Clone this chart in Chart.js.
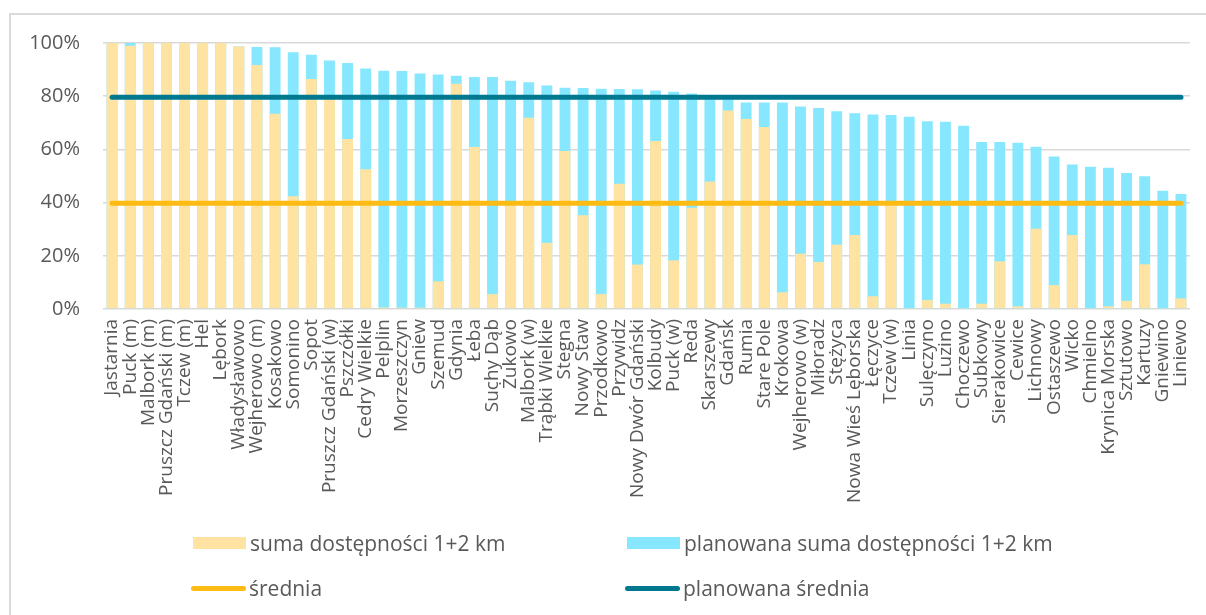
<!DOCTYPE html>
<html lang="pl">
<head>
<meta charset="utf-8">
<title>Dostępność 1+2 km</title>
<script src="https://cdn.jsdelivr.net/npm/chart.js@4/dist/chart.umd.min.js"></script>
<style>
  html, body { margin: 0; padding: 0; background: #fff; overflow: hidden; }
  #wrap { position: relative; width: 1206px; height: 615px; overflow: hidden; }
  #frame {
    position: absolute; left: 9px; top: 13px; right: -20px; bottom: -20px;
    border: 2px solid #d9d9d9; pointer-events: none;
  }
  #chart { position: absolute; left: 0; top: 0; }
  .legend-item {
    position: absolute; display: flex; align-items: center;
    font-family: "Open Sans", sans-serif; font-size: 21px; color: #595959;
    white-space: nowrap; height: 30px;
  }
  .legend-item .box { width: 53px; height: 12px; margin-right: 4px; }
  .legend-item .line { width: 55px; height: 5px; border-radius: 3px; margin-right: 3px; }
</style>
</head>
<body>
<div id="wrap">
  <div id="frame"></div>
  <canvas id="chart" width="1206" height="615"></canvas>
  <div id="legend"></div>
</div>
<script>
'use strict';

const categories = [
  'Jastarnia', 'Puck (m)', 'Malbork (m)', 'Pruszcz Gdański (m)', 'Tczew (m)', 'Hel', 'Lębork',
  'Władysławowo', 'Wejherowo (m)', 'Kosakowo', 'Somonino', 'Sopot', 'Pruszcz Gdański (w)',
  'Pszczółki', 'Cedry Wielkie', 'Pelplin', 'Morzeszczyn', 'Gniew', 'Szemud', 'Gdynia', 'Łeba',
  'Suchy Dąb', 'Żukowo', 'Malbork (w)', 'Trąbki Wielkie', 'Stegna', 'Nowy Staw', 'Przodkowo',
  'Przywidz', 'Nowy Dwór Gdański', 'Kolbudy', 'Puck (w)', 'Reda', 'Skarszewy', 'Gdańsk', 'Rumia',
  'Stare Pole', 'Krokowa', 'Wejherowo (w)', 'Miłoradz', 'Stężyca', 'Nowa Wieś Lęborska',
  'Łęczyce', 'Tczew (w)', 'Linia', 'Sulęczyno', 'Luzino', 'Choczewo', 'Subkowy', 'Sierakowice',
  'Cewice', 'Lichnowy', 'Ostaszewo', 'Wicko', 'Chmielno', 'Krynica Morska', 'Sztutowo',
  'Kartuzy', 'Gniewino', 'Liniewo'
];

// suma dostępności 1+2 km (%)
const currentAccess = [
  100, 99, 100, 100, 100, 100, 100, 98.7, 91.7, 73.4,
  42.4, 86.5, 80, 63.9, 52.5, 0.6, 0.5, 0.5, 10.4, 84.7,
  60.9, 5.6, 40, 71.9, 24.9, 59.4, 35.2, 5.6, 47.1, 16.7,
  63.2, 18.3, 38.1, 47.9, 74.6, 71.4, 68.4, 6.3, 20.8, 17.7,
  24.2, 27.8, 4.8, 40, 0.3, 3.4, 2.0, 0.3, 2.0, 17.9,
  1.0, 30.2, 9.0, 27.8, 0.3, 1.0, 3.1, 16.8, 0.3, 4.0
];

// planowana suma dostępności 1+2 km (%)
const plannedAccess = [
  100, 100, 100, 100, 100, 100, 100, 98.7, 98.5, 98.4,
  96.5, 95.6, 93.4, 92.5, 90.4, 89.6, 89.5, 88.5, 88.2, 87.7,
  87.2, 87.2, 85.8, 85.2, 84.0, 83.2, 83.1, 82.8, 82.7, 82.6,
  82.1, 81.7, 81.0, 80.2, 79.2, 77.6, 77.6, 77.6, 76.1, 75.6,
  74.3, 73.6, 73.1, 72.9, 72.3, 70.6, 70.4, 68.9, 62.8, 62.8,
  62.5, 61.0, 57.3, 54.3, 53.5, 53.1, 51.1, 49.9, 44.5, 43.2
];

const averageCurrent = 39.8;
const averagePlanned = 79.6;

const yTicks = [0, 20, 40, 60, 80, 100];

const seriesNames = [
  'suma dostępności 1+2 km',
  'planowana suma dostępności 1+2 km',
  'średnia',
  'planowana średnia'
];

const COLORS = {
  current: '#fee3a2',
  planned: '#86e7fe',
  avg: '#fdbb14',
  avgPlanned: '#00788f',
  grid: '#d9d9d9',
  text: '#595959'
};

const CHART_LEFT = 103;
const CHART_TOP = 43;
const CHART_BOTTOM = 309;

const ctx = document.getElementById('chart').getContext('2d');

new Chart(ctx, {
  type: 'bar',
  data: {
    labels: categories,
    datasets: [
      {
        type: 'line',
        label: seriesNames[3],
        data: categories.map(() => averagePlanned),
        borderColor: COLORS.avgPlanned,
        borderWidth: 5,
        borderCapStyle: 'round',
        pointRadius: 0,
        order: 0
      },
      {
        type: 'line',
        label: seriesNames[2],
        data: categories.map(() => averageCurrent),
        borderColor: COLORS.avg,
        borderWidth: 5,
        borderCapStyle: 'round',
        pointRadius: 0,
        order: 0
      },
      {
        label: seriesNames[0],
        data: currentAccess,
        backgroundColor: COLORS.current,
        grouped: false,
        categoryPercentage: 1,
        barPercentage: 0.6,
        order: 1
      },
      {
        label: seriesNames[1],
        data: plannedAccess,
        backgroundColor: COLORS.planned,
        grouped: false,
        categoryPercentage: 1,
        barPercentage: 0.6,
        order: 2
      }
    ]
  },
  options: {
    responsive: false,
    animation: false,
    events: [],
    layout: {
      padding: { left: 0, right: 16, top: CHART_TOP, bottom: 0 }
    },
    plugins: {
      legend: { display: false },
      tooltip: { enabled: false }
    },
    scales: {
      x: {
        border: { display: false },
        grid: { display: false, drawTicks: false },
        ticks: {
          autoSkip: false,
          minRotation: 90,
          maxRotation: 90,
          padding: 10,
          color: COLORS.text,
          font: { family: 'Open Sans', size: 19 }
        },
        afterFit: scale => {
          scale.height = 615 - CHART_BOTTOM;
          // rotated labels stay within the category slots, no side padding needed
          scale.paddingLeft = 0;
          scale.paddingRight = 0;
        }
      },
      y: {
        min: 0,
        max: 100,
        border: { display: false },
        grid: { color: COLORS.grid, lineWidth: 1.6, drawTicks: false },
        afterBuildTicks: scale => {
          scale.ticks = yTicks.map(value => ({ value }));
        },
        ticks: {
          padding: 23,
          color: COLORS.text,
          font: { family: 'Open Sans', size: 20 },
          callback: value => `${value}%`
        },
        afterFit: scale => {
          scale.width = CHART_LEFT;
        }
      }
    }
  }
});

// legend laid out in two columns under the plot
const legendItems = [
  { name: seriesNames[0], kind: 'box', color: COLORS.current, left: 193, top: 528 },
  { name: seriesNames[1], kind: 'box', color: COLORS.planned, left: 627, top: 528 },
  { name: seriesNames[2], kind: 'line', color: COLORS.avg, left: 191, top: 573 },
  { name: seriesNames[3], kind: 'line', color: COLORS.avgPlanned, left: 625, top: 573 }
];

const legendEl = document.getElementById('legend');
legendItems.forEach(item => {
  const row = document.createElement('div');
  row.className = 'legend-item';
  row.style.left = `${item.left}px`;
  row.style.top = `${item.top}px`;
  const mark = document.createElement('span');
  mark.className = item.kind;
  mark.style.background = item.color;
  const label = document.createElement('span');
  label.textContent = item.name;
  row.appendChild(mark);
  row.appendChild(label);
  legendEl.appendChild(row);
});
</script>
</body>
</html>
